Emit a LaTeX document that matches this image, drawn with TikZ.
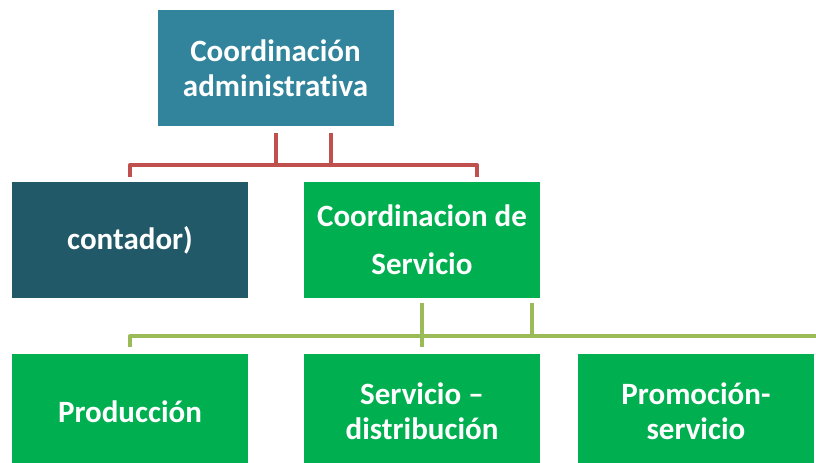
\documentclass[tikz,border=0pt]{standalone}
\usepackage{fontspec}
\setmainfont{Carlito}[Ligatures=NoCommon]
\usepackage{tikz}
\usetikzlibrary{positioning}
\usetikzlibrary{calc}
\definecolor{admblue}{RGB}{49,132,155}
\definecolor{contblue}{RGB}{33,89,104}
\definecolor{servgreen}{RGB}{0,176,80}
\definecolor{redline}{RGB}{192,80,77}
\definecolor{oliveline}{RGB}{155,187,89}
\tikzstyle{box} = [rectangle, minimum width=177pt, minimum height=87pt,
text=white, align=center, inner sep=0pt,
font=\bfseries\fontsize{23.25}{26.25}\selectfont]

\begin{document}
\begin{tikzpicture}[x=0.75pt, y=-0.75pt,
  redcon/.style={draw=redline, line width=3pt, line join=round},
  olivecon/.style={draw=oliveline, line width=3pt, line join=round}]
  \useasboundingbox (0,0) rectangle (816,463);
  \clip (0,0) rectangle (816,463);
  \node [box, fill=admblue] (coordadm) at (275.5,68.5)
  {Coordinación\\administrativa};
  \node [box, fill=contblue] (contador) at (130,240) {contador)};
  \node [box, fill=servgreen,
  font=\bfseries\fontsize{23.25}{36}\selectfont] (coordserv) at (422,240)
  {Coordinacion de\\Servicio};
  %%
  \node [box, fill=servgreen] (produccion) at (130,411.5) {Producción};
  \node [box, fill=servgreen] (servdist) at (422,411.5)
  {Servicio –\\distribución};
  \node [box, fill=servgreen] (promserv) at (696,411.5)
  {Promoción-\\servicio};
  \coordinate (rightend) at (840,336);
  %% Red connectors
  \draw [redcon] ([yshift=-4.5pt]coordadm.south) -- ++(0,32)
  coordinate (redmid);
  \draw [redcon] ([xshift=41.6pt, yshift=-4.5pt]coordadm.south) -- ++(0,32);
  \draw [redcon] ([yshift=3.75pt]contador.north) |- (redmid)
  -| ([xshift=41.25pt, yshift=3.75pt]coordserv.north);
  %% Olive connectors
  \draw [olivecon] ([yshift=-3.75pt]coordserv.south)
  -- ([yshift=4.5pt]servdist.north);
  \draw [olivecon] ([xshift=82.5pt, yshift=-3.75pt]coordserv.south)
  -- ++(0,33);
  \draw [olivecon] ([yshift=4.5pt]produccion.north) |- (rightend);
\end{tikzpicture}
\end{document}
